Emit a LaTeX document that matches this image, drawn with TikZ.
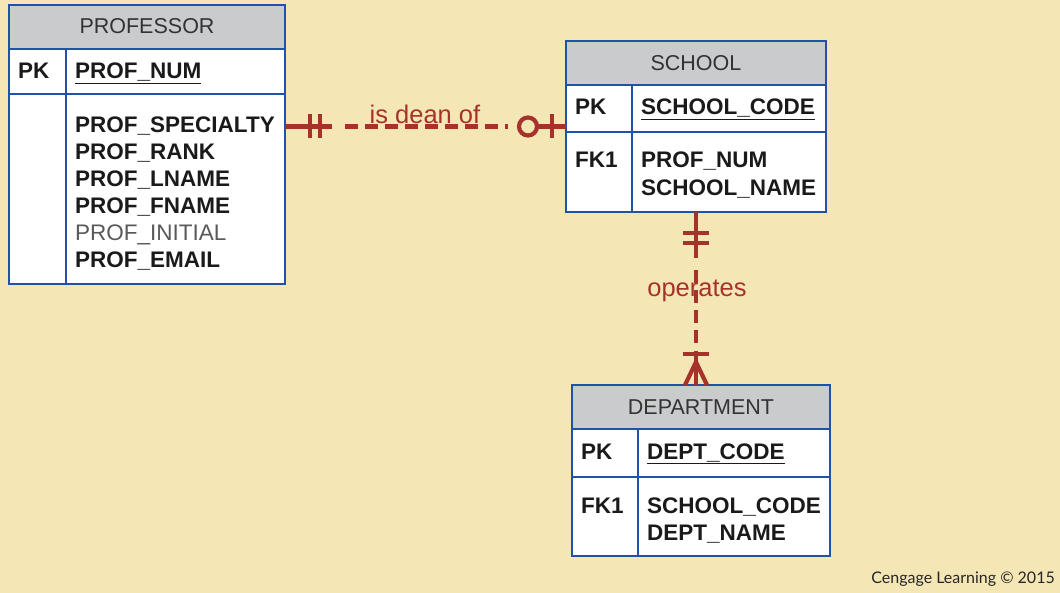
\documentclass[tikz,border=0pt]{standalone}
\usepackage{fontspec}
\setmainfont{Liberation Sans}
\newfontfamily\copyfont{Lato}
\usetikzlibrary{calc}
\definecolor{bg}{HTML}{F5E6B6}
\definecolor{hdr}{HTML}{C9CBCC}
\definecolor{bord}{HTML}{2152AA}
\definecolor{rel}{HTML}{A6332B}
\definecolor{txt}{HTML}{1A1A1A}
\tikzset{
  box/.style={draw=bord, line width=2.8pt, anchor=north west, inner sep=0pt, outer sep=0pt},
  hbox/.style={box, fill=hdr},
  wbox/.style={box, fill=white},
  frame/.style={anchor=north west, inner sep=0pt, outer sep=0pt},
  divline/.style={draw=bord, line width=2.8pt},
  htext/.style={font=\fontsize{21.5}{25}\selectfont, text=black!80, anchor=base, inner sep=0pt},
  ftext/.style={font=\fontsize{22.5}{27}\selectfont\bfseries, text=txt, anchor=base west, inner sep=0pt},
  ltext/.style={font=\fontsize{22.5}{27}\selectfont, text=black!65, anchor=base west, inner sep=0pt},
  relline/.style={draw=rel, line width=4.8pt},
  relthin/.style={draw=rel, line width=4.2pt},
  rlab/.style={font=\fontsize{25.5}{28}\selectfont, text=rel, anchor=base, inner sep=0pt},
}
\begin{document}
\begin{tikzpicture}[x=1pt,y=-1pt]
\useasboundingbox (0,0) rectangle (1060,593);
\fill[bg] (0,0) rectangle (1060,593);

% ---------- PROFESSOR ----------
\node[frame, minimum width=276pt, minimum height=279pt] (prof) at (9,5) {};
\node[hbox, minimum width=276pt, minimum height=44pt] (profH) at (9,5) {};
\node[wbox, minimum width=276pt, minimum height=45pt] (profP) at (9,49) {};
\node[wbox, minimum width=276pt, minimum height=190pt] (profB) at (9,94) {};
\draw[divline] ($(profP.north west)+(57,0)$) -- ($(profB.south west)+(57,0)$);
\node[htext] (profT) at (147,33.5) {PROFESSOR};
\node[ftext] (profPK) at (18,79) {PK};
\node[ftext] (profK) at (75,79) {\underline{PROF\_NUM}};
\node[ftext] (pf1) at (75,133) {PROF\_SPECIALTY};
\node[ftext] (pf2) at (75,160) {PROF\_RANK};
\node[ftext] (pf3) at (75,187) {PROF\_LNAME};
\node[ftext] (pf4) at (75,214) {PROF\_FNAME};
\node[ltext] (pf5) at (75,241) {PROF\_INITIAL};
\node[ftext] (pf6) at (75,268) {PROF\_EMAIL};

% ---------- SCHOOL ----------
\node[frame, minimum width=260pt, minimum height=171pt] (sch) at (566,41) {};
\node[hbox, minimum width=260pt, minimum height=44pt] (schH) at (566,41) {};
\node[wbox, minimum width=260pt, minimum height=47pt] (schP) at (566,85) {};
\node[wbox, minimum width=260pt, minimum height=80pt] (schB) at (566,132) {};
\draw[divline] ($(schP.north west)+(66,0)$) -- ($(schB.south west)+(66,0)$);
\node[htext] (schT) at (696,70.5) {SCHOOL};
\node[ftext] (schPK) at (575,115) {PK};
\node[ftext] (schK) at (641,115) {\underline{SCHOOL\_CODE}};
\node[ftext] (schFK) at (575,168) {FK1};
\node[ftext] (sf1) at (641,168) {PROF\_NUM};
\node[ftext] (sf2) at (641,196) {SCHOOL\_NAME};

% ---------- DEPARTMENT ----------
\node[frame, minimum width=258pt, minimum height=171pt] (dept) at (572,385) {};
\node[hbox, minimum width=258pt, minimum height=44pt] (deptH) at (572,385) {};
\node[wbox, minimum width=258pt, minimum height=48pt] (deptP) at (572,429) {};
\node[wbox, minimum width=258pt, minimum height=79pt] (deptB) at (572,477) {};
\draw[divline] ($(deptP.north west)+(66,0)$) -- ($(deptB.south west)+(66,0)$);
\node[htext] (deptT) at (701,414) {DEPARTMENT};
\node[ftext] (deptPK) at (581,459) {PK};
\node[ftext] (deptK) at (647,459) {\underline{DEPT\_CODE}};
\node[ftext] (deptFK) at (581,513) {FK1};
\node[ftext] (df1) at (647,513) {SCHOOL\_CODE};
\node[ftext] (df2) at (647,540) {DEPT\_NAME};

% ---------- is dean of ----------
\coordinate (A) at (prof.east |- sch.west);
\coordinate (B) at (sch.west);
\draw[relline] (A) -- ($(A)+(47,0)$);
\draw[relthin] ($(A)+(25,-12)$) -- ($(A)+(25,12)$);
\draw[relthin] ($(A)+(35,-12)$) -- ($(A)+(35,12)$);
\draw[relline, dash pattern=on 13pt off 7pt] ($(A)+(60,0)$) -- ($(A)+(223,0)$);
\draw[relthin] ($(B)+(-38,0)$) circle (9);
\draw[relline] ($(B)+(-29,0)$) -- (B);
\draw[relthin] ($(B)+(-14,-12)$) -- ($(B)+(-14,12)$);
\node[rlab] (l1) at (425,124) {is dean of};

% ---------- operates ----------
\coordinate (C) at (sch.south);
\coordinate (D) at (sch.south |- dept.north);
\draw[relline] (C) -- ($(C)+(0,46)$);
\draw[relthin] ($(C)+(-13,21)$) -- ($(C)+(13,21)$);
\draw[relthin] ($(C)+(-13,31)$) -- ($(C)+(13,31)$);
\draw[relline, dash pattern=on 13pt off 7pt] ($(C)+(0,58)$) -- ($(D)+(0,-40)$);
\draw[relline] ($(D)+(0,-34)$) -- (D);
\draw[relthin] ($(D)+(-13,-31)$) -- ($(D)+(13,-31)$);
\draw[relthin] ($(D)+(0,-23)$) -- ($(D)+(-11,0)$);
\draw[relthin] ($(D)+(0,-23)$) -- ($(D)+(11,0)$);
\node[rlab] (l2) at (697,297) {operates};

% ---------- credit ----------
\node[anchor=base east, inner sep=0pt, font=\copyfont\fontsize{16}{18}\selectfont, text=black!85] (cr) at (1055,583) {Cengage Learning © 2015};
\end{tikzpicture}
\end{document}
